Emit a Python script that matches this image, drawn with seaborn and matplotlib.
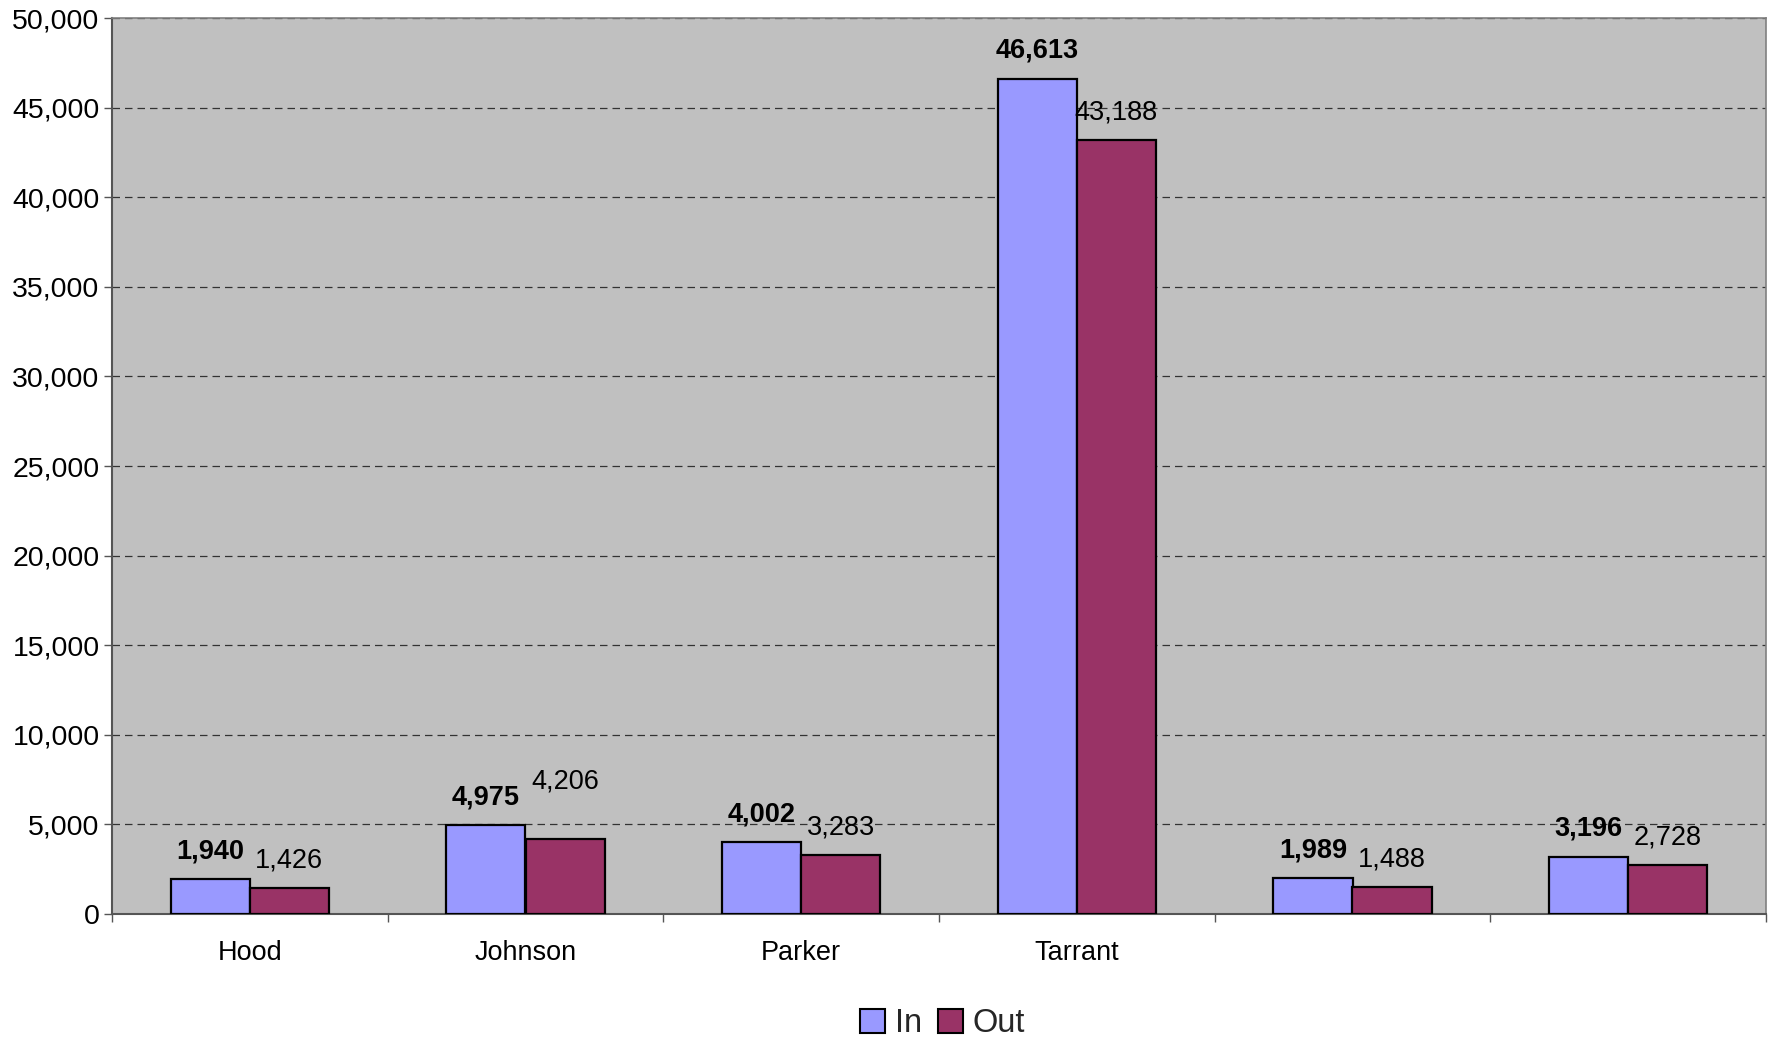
import matplotlib
matplotlib.use("Agg")
import matplotlib.pyplot as plt
import matplotlib.ticker as mticker
from matplotlib.patches import Patch
import seaborn as sns
import pandas as pd
import numpy as np

# ---- data ----
category_ids = ["c1", "c2", "c3", "c4", "c5", "c6"]
tick_labels = ["Hood", "Johnson", "Parker", "Tarrant", "", ""]
in_values = [1940, 4975, 4002, 46613, 1989, 3196]
out_values = [1426, 4206, 3283, 43188, 1488, 2728]
series_names = ["In", "Out"]

df = pd.DataFrame({
    "cat": category_ids * 2,
    "series": [series_names[0]] * len(category_ids) + [series_names[1]] * len(category_ids),
    "value": in_values + out_values,
})

sns.set_theme(style="white")
plt.rcParams["font.family"] = ["Liberation Sans", "DejaVu Sans"]

colors = {"In": "#9999FF", "Out": "#993366"}

fig = plt.figure(figsize=(17.73, 10.43), dpi=100)
ax = fig.add_axes([112 / 1773, 1 - 914 / 1043, (1766 - 112) / 1773, (914 - 18) / 1043])
ax.set_facecolor("#C0C0C0")

sns.barplot(data=df, x="cat", y="value", hue="series", order=category_ids,
            hue_order=series_names, palette=colors, width=0.574, gap=0,
            edgecolor="black", linewidth=1.6, saturation=1, legend=False, ax=ax,
            zorder=3)

ax.set_xlim(-0.5, len(category_ids) - 0.5)
ax.set_ylim(0, 50000)
ax.yaxis.set_major_locator(mticker.MultipleLocator(5000))
ax.yaxis.set_major_formatter(mticker.FuncFormatter(lambda v, p: f"{int(v):,}"))
ax.grid(axis="y", color="#333333", linestyle=(0, (6, 4)), linewidth=0.9, zorder=1)
ax.set_axisbelow(True)

ax.set_xticks(range(len(category_ids)))
ax.set_xticklabels(tick_labels)
ax.set_xticks(np.arange(-0.5, len(category_ids) + 0.5, 1), minor=True)
ax.tick_params(axis="x", which="both", bottom=True)
ax.tick_params(axis="y", which="both", left=True)
ax.tick_params(axis="x", which="major", length=0, labelsize=19.5, pad=19, labelcolor="black")
ax.tick_params(axis="x", which="minor", length=6, width=1, color="#555555", direction="out")
ax.tick_params(axis="y", which="major", length=6, width=1, color="#555555", direction="out",
               labelsize=20.5, pad=3, labelcolor="black")
ax.set_xlabel("")
ax.set_ylabel("")

for side in ["left", "bottom"]:
    ax.spines[side].set_color("#555555")
    ax.spines[side].set_linewidth(1.5)
for side in ["top", "right"]:
    ax.spines[side].set_color("#808080")
    ax.spines[side].set_linewidth(1.2)

# data labels
extra_out = {1: 21}
bar_w = 0.287
for i, v in enumerate(in_values):
    x = i - bar_w / 2
    ax.annotate(f"{v:,}", (x, v), xytext=(0, 20), textcoords="offset points",
                ha="center", va="center", fontsize=19.5, fontweight="bold", color="black")
for i, v in enumerate(out_values):
    x = i + bar_w / 2
    ax.annotate(f"{v:,}", (x, v), xytext=(0, 20 + extra_out.get(i, 0)), textcoords="offset points",
                ha="center", va="center", fontsize=19.5, color="black")

handles = [Patch(facecolor=colors[s], edgecolor="black", linewidth=1.5, label=s) for s in series_names]
fig.legend(handles=handles, loc="center", bbox_to_anchor=((112 + 1766) / 2 / 1773 + 0.002, 1 - 1024 / 1043),
           ncol=2, frameon=False, fontsize=23.5, handlelength=0.75, handleheight=0.75,
           handletextpad=0.3, columnspacing=0.5, borderaxespad=0)

fig.savefig("out.png", dpi=100)
